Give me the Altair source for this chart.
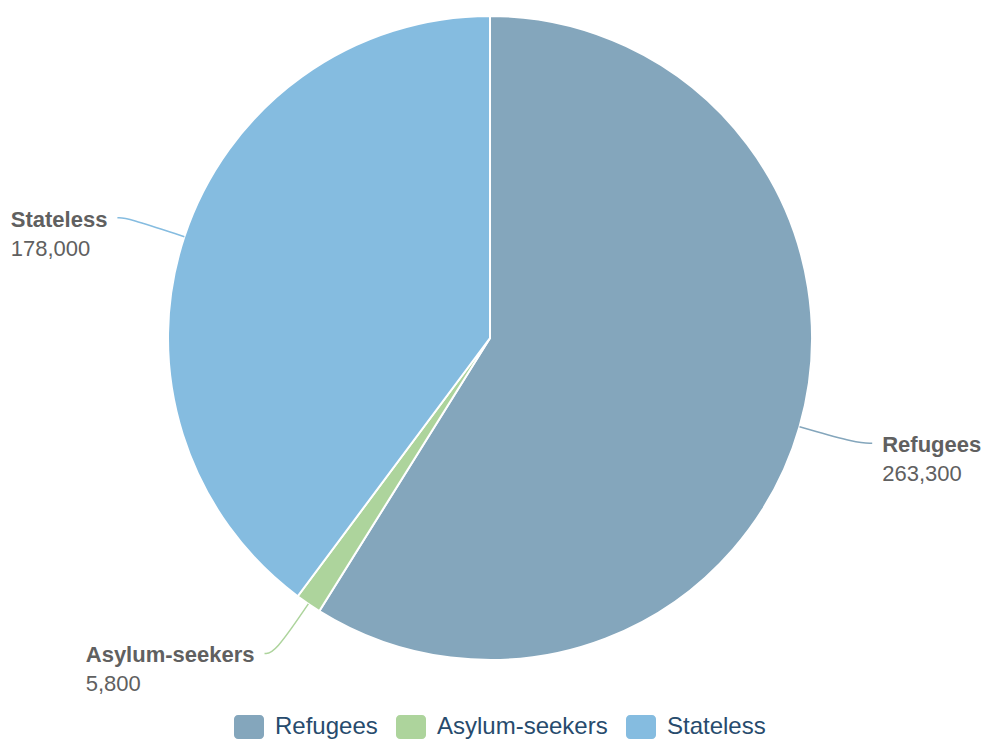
import math
import altair as alt
import pandas as pd

# ---- data ----
names = ["Refugees", "Asylum-seekers", "Stateless"]
values = [263300, 5800, 178000]
value_labels = ["263,300", "5,800", "178,000"]
colors = ["#84a6bc", "#add49c", "#85bce0"]

# ---- layout (styles) ----
W, H = 974, 733
CX, CY = 482, 330
R = 322
L1 = 60     # radial extension of connector
GAP = 10    # gap connector -> text
FS = 22
LINE2 = 29

bold_w = {"S": .667, "t": .333, "a": .556, "e": .556, "l": .278, "s": .556,
          "A": .722, "y": .556, "u": .611, "m": .889, "-": .333, "k": .556,
          "r": .389, "R": .722, "f": .333, "g": .611}


def text_width(s):
    return sum(bold_w.get(c, .556) for c in s) * FS


total = sum(values)
pie_df = pd.DataFrame({"name": names, "value": values, "order": list(range(len(names)))})

line_rows, text_rows = [], []
cum = 0.0
for n, v, vl in zip(names, values, value_labels):
    a = math.radians((cum + v / 2) / total * 360)
    cum += v
    sx, sy = math.sin(a), -math.cos(a)
    side = 1 if sx >= 0 else -1
    h1 = 15 if side > 0 else 10
    p0 = (CX + R * sx, CY + R * sy)
    p1 = (CX + (R + L1) * sx, CY + (R + L1) * sy)
    p2 = (p1[0] + side * h1, p1[1])
    for i, p in enumerate([p0, p1, p2]):
        line_rows.append({"name": n, "i": i, "x": p[0], "y": p[1]})
    if side > 0:
        tx = p2[0] + GAP
    else:
        tx = p2[0] - GAP - text_width(n)
    text_rows.append({"name": n, "label": vl, "x": tx, "y": p2[1] + 2, "y2": p2[1] + 2 + LINE2})

line_df = pd.DataFrame(line_rows)
text_df = pd.DataFrame(text_rows)

xs = alt.Scale(domain=[0, W], range=[0, W])
ys = alt.Scale(domain=[0, H], range=[0, H])

color = alt.Color(
    "name:N",
    scale=alt.Scale(domain=names, range=colors),
    sort=names,
    legend=alt.Legend(
        title=None,
        orient="none",
        legendX=226,
        legendY=704,
        direction="horizontal",
        labelFontSize=24,
        labelFont="Liberation Sans",
        labelColor="#274b6d",
        labelOffset=11,
        columnPadding=18,
        labelLimit=400,
        symbolType="M-0.733,-0.8 H0.733 A0.267,0.267 0 0 1 1,-0.533 V0.533 A0.267,0.267 0 0 1 0.733,0.8 H-0.733 A0.267,0.267 0 0 1 -1,0.533 V-0.533 A0.267,0.267 0 0 1 -0.733,-0.8 Z",
        symbolSize=900,
        symbolStrokeWidth=0,
        symbolOpacity=1,
    ),
)

pie = alt.Chart(pie_df).mark_arc(
    x=CX, y=CY, outerRadius=R, stroke="white", strokeWidth=2
).encode(
    theta=alt.Theta("value:Q", stack=True),
    order=alt.Order("order:Q"),
    color=color,
)

lines = alt.Chart(line_df).mark_line(interpolate="basis", strokeWidth=1.5).encode(
    x=alt.X("x:Q", scale=xs, axis=None),
    y=alt.Y("y:Q", scale=ys, axis=None),
    detail="name:N",
    order="i:Q",
    color=alt.Color("name:N", scale=alt.Scale(domain=names, range=colors), legend=None),
)

name_text = alt.Chart(text_df).mark_text(
    align="left", baseline="middle", fontSize=FS, fontWeight="bold",
    font="Liberation Sans", color="#606060"
).encode(
    x=alt.X("x:Q", scale=xs, axis=None),
    y=alt.Y("y:Q", scale=ys, axis=None),
    text="name:N",
)

val_text = alt.Chart(text_df).mark_text(
    align="left", baseline="middle", fontSize=FS,
    font="Liberation Sans", color="#606060"
).encode(
    x=alt.X("x:Q", scale=xs, axis=None),
    y=alt.Y("y2:Q", scale=ys, axis=None),
    text="label:N",
)

chart = alt.layer(pie, lines, name_text, val_text).properties(
    width=W, height=H,
    autosize=alt.AutoSizeParams(type="none"),
    padding=0,
).configure_view(stroke=None)

chart.save("out.html", embed_options={"renderer": "svg", "actions": False})
